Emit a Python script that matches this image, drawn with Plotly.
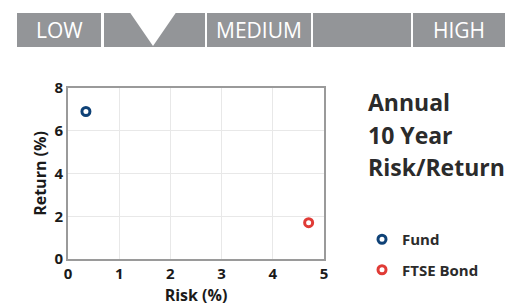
import plotly.graph_objects as go

# Data
series_names = ["Fund", "FTSE Bond"]
risk_values = [0.35, 4.7]
return_values = [6.9, 1.7]
series_colors = ["#0f4277", "#e03b36"]
x_ticks = [0, 1, 2, 3, 4, 5]
y_ticks = [0, 2, 4, 6, 8]
band_labels = ["LOW", "", "MEDIUM", "", "HIGH"]
title_lines = ["Annual", "10 Year", "Risk/Return"]

W, H = 526, 306
PL, PR, PT, PB = 68, 324, 88, 259


def px(x):
    return (x - PL) / (PR - PL)


def py(y):
    return (PB - y) / (PB - PT)


fig = go.Figure()
for name, rx, ry, col in zip(series_names, risk_values, return_values, series_colors):
    fig.add_trace(go.Scatter(
        x=[rx], y=[ry], mode="markers", name=name, legendgroup=name,
        marker=dict(symbol="circle-open", size=8, color=col, line=dict(width=3, color=col)),
        cliponaxis=False,
    ))

shapes = []
annotations = []
# risk band
seg_bounds = [(17, 101), (104, 205), (207, 311), (313, 411), (413, 505)]
band_top, band_bot = 13, 47
for (x0, x1), lab in zip(seg_bounds, band_labels):
    shapes.append(dict(type="rect", xref="paper", yref="paper",
                       x0=px(x0), x1=px(x1), y0=py(band_bot), y1=py(band_top),
                       fillcolor="#939598", line=dict(width=0), layer="above"))
    if lab:
        annotations.append(dict(xref="paper", yref="paper", x=px((x0 + x1) / 2), y=py(30),
                                text=lab, showarrow=False, xanchor="center", yanchor="middle",
                                font=dict(family="Open Sans", size=21, color="white", weight=400)))
# notch triangle
tx0, tx1, ttip = px(130), px(176), px(153)
ty_top, ty_tip = py(band_top - 0.5), py(46)
shapes.append(dict(type="path", xref="paper", yref="paper",
                   path=f"M {tx0} {ty_top} L {tx1} {ty_top} L {ttip} {ty_tip} Z",
                   fillcolor="white", line=dict(width=0), layer="above"))

# title lines
for i, t in enumerate(title_lines):
    annotations.append(dict(xref="paper", yref="paper", x=px(366), y=py(102 + 32.5 * i),
                            text=f"<b>{t}</b>", showarrow=False, xanchor="left", yanchor="middle",
                            font=dict(family="Open Sans", size=23, color="#2b2b2b")))

fig.update_layout(
    width=W, height=H,
    margin=dict(l=PL, r=W - PR, t=PT, b=H - PB, pad=0, autoexpand=False),
    plot_bgcolor="white", paper_bgcolor="white",
    shapes=shapes, annotations=annotations,
    showlegend=True,
    legend=dict(x=px(362), y=py(223), xanchor="left", yanchor="top",
                font=dict(family="Open Sans", size=15, color="#2b2b2b", weight="bold"),
                tracegroupgap=8, itemwidth=30, bgcolor="rgba(0,0,0,0)"),
    xaxis=dict(range=[0, 5], tickvals=x_ticks, showgrid=True, gridcolor="#e8e8e8", gridwidth=1,
               zeroline=False, showline=True, mirror=True, linecolor="#9a9a9a", linewidth=2,
               ticks="", automargin=False,
               tickfont=dict(family="Open Sans", size=15, color="#1a1a1a", weight="bold"),
               title=dict(text="<b>Risk (%)</b>", font=dict(family="Open Sans", size=16, color="#1a1a1a"), standoff=8)),
    yaxis=dict(range=[0, 8], tickvals=y_ticks, showgrid=True, gridcolor="#e8e8e8", gridwidth=1,
               zeroline=False, showline=True, mirror=True, linecolor="#9a9a9a", linewidth=2,
               ticks="", automargin=False,
               tickfont=dict(family="Open Sans", size=15, color="#1a1a1a", weight="bold"),
               title=dict(text="<b>Return (%)</b>", font=dict(family="Open Sans", size=16, color="#1a1a1a"), standoff=4)),
)

fig.write_html("out.html", config={"displayModeBar": False},
               post_script="document.body.style.margin='0';document.body.style.overflow='hidden';")
